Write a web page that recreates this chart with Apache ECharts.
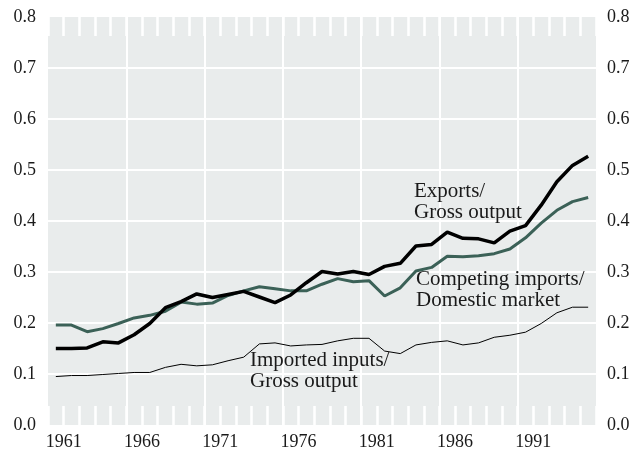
<!DOCTYPE html>
<html>
<head>
<meta charset="utf-8">
<script src="https://cdn.jsdelivr.net/npm/echarts@6/dist/echarts.min.js"></script>
<style>
html,body{margin:0;padding:0;background:#fff;}
#chart{width:634px;height:449px;}
</style>
</head>
<body>
<div id="chart"></div>
<script>
const years = [1961,1962,1963,1964,1965,1966,1967,1968,1969,1970,1971,1972,1973,1974,1975,1976,1977,1978,1979,1980,1981,1982,1983,1984,1985,1986,1987,1988,1989,1990,1991,1992,1993,1994,1995];
const exportsGross = [0.150,0.150,0.151,0.163,0.161,0.177,0.199,0.230,0.242,0.257,0.250,0.256,0.262,0.251,0.240,0.255,0.279,0.301,0.296,0.301,0.295,0.311,0.317,0.351,0.354,0.378,0.366,0.365,0.357,0.380,0.391,0.431,0.477,0.509,0.527];
const competingImports = [0.196,0.196,0.183,0.189,0.199,0.210,0.215,0.223,0.241,0.237,0.239,0.254,0.263,0.271,0.267,0.263,0.263,0.276,0.287,0.281,0.283,0.253,0.269,0.302,0.309,0.331,0.330,0.332,0.336,0.345,0.367,0.396,0.421,0.438,0.446];
const importedInputs = [0.095,0.097,0.097,0.099,0.101,0.103,0.103,0.113,0.119,0.116,0.118,0.126,0.133,0.159,0.161,0.155,0.157,0.158,0.165,0.170,0.170,0.145,0.140,0.157,0.162,0.165,0.157,0.161,0.172,0.176,0.182,0.199,0.220,0.231,0.231];
const xLabelYears = [1961,1966,1971,1976,1981,1986,1991];

const FONT = '"Liberation Serif", "Times New Roman", serif';
const TXT = '#1a1a1a';
const pts = arr => arr.map((v, i) => [years[i] - 0.5, v]);

const chart = echarts.init(document.getElementById('chart'), null, {renderer: 'canvas'});
const mkTick = () => ({show: true, inside: true, length: 19, lineStyle: {color: '#ffffff', width: 2.5}});
const mkYLabel = m => ({fontFamily: FONT, fontSize: 18, color: TXT, margin: m, formatter: v => v.toFixed(1)});
chart.setOption({
  animation: false,
  grid: {left: 48, right: 38, top: 17, bottom: 24, show: true, backgroundColor: '#e9ecec', borderWidth: 0,
         containLabel: false, outerBoundsMode: 'none'},
  xAxis: [
    {type: 'value', position: 'bottom', min: 1960, max: 1995, interval: 1,
     axisLine: {show: false, onZero: false}, axisTick: mkTick(), splitLine: {show: false},
     axisLabel: {fontFamily: FONT, fontSize: 18, color: TXT, margin: 8,
       formatter: v => xLabelYears.indexOf(v) >= 0 ? String(v) : ''}},
    {type: 'value', position: 'top', min: 1960, max: 1995, interval: 1,
     axisLine: {show: false, onZero: false}, axisTick: mkTick(), axisLabel: {show: false}, splitLine: {show: false}},
    {type: 'value', position: 'bottom', min: 1960, max: 1995, interval: 5,
     axisLine: {show: false, onZero: false}, axisTick: {show: false}, axisLabel: {show: false},
     splitLine: {show: true, lineStyle: {color: ['rgba(0,0,0,0)','#fff','#fff','#fff','#fff','#fff','#fff','rgba(0,0,0,0)'], width: 2}}}
  ],
  yAxis: [
    {type: 'value', position: 'left', min: 0, max: 0.8, interval: 0.1,
     axisLine: {show: false}, axisTick: {show: false}, axisLabel: mkYLabel(12),
     splitLine: {show: true, lineStyle: {color: ['rgba(0,0,0,0)','#fff','#fff','#fff','#fff','#fff','#fff','#fff','rgba(0,0,0,0)'], width: 2}}},
    {type: 'value', position: 'right', min: 0, max: 0.8, interval: 0.1,
     axisLine: {show: false}, axisTick: {show: false}, axisLabel: mkYLabel(11), splitLine: {show: false}}
  ],
  series: [
    {name: 'Imported inputs/Gross output', type: 'line', xAxisIndex: 0, yAxisIndex: 0, data: pts(importedInputs),
     showSymbol: false, lineStyle: {color: '#000', width: 1}, z: 3},
    {name: 'Competing imports/Domestic market', type: 'line', xAxisIndex: 0, yAxisIndex: 0, data: pts(competingImports),
     showSymbol: false, lineStyle: {color: '#3b6157', width: 3}, z: 4},
    {name: 'Exports/Gross output', type: 'line', xAxisIndex: 0, yAxisIndex: 0, data: pts(exportsGross),
     showSymbol: false, lineStyle: {color: '#000', width: 3.5}, z: 5}
  ],
  graphic: [
    {type: 'text', left: 414, top: 181, z: 10, style: {text: 'Exports/\nGross output', font: '21px ' + FONT, fill: TXT, lineHeight: 21}},
    {type: 'text', left: 416, top: 269, z: 10, style: {text: 'Competing imports/\nDomestic market', font: '21px ' + FONT, fill: TXT, lineHeight: 21}},
    {type: 'text', left: 250, top: 350, z: 10, style: {text: 'Imported inputs/\nGross output', font: '21px ' + FONT, fill: TXT, lineHeight: 21}}
  ]
});
</script>
</body>
</html>
